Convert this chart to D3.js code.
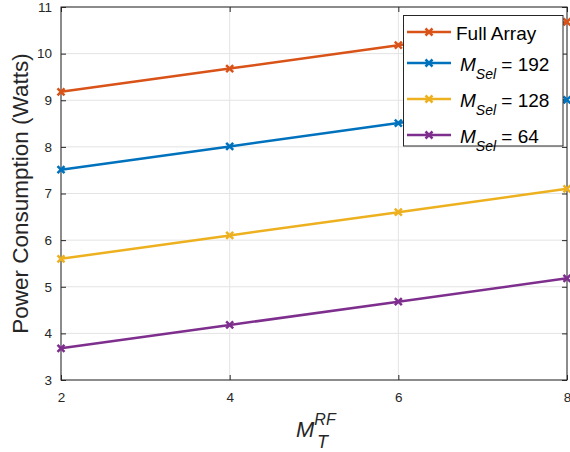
<!DOCTYPE html>
<html><head><meta charset="utf-8">
<script src="https://cdn.jsdelivr.net/npm/d3@7"></script>
<style>body{margin:0;background:#fff}svg{display:block;font-family:"Liberation Sans",Arial,sans-serif}</style>
</head><body>
<script>
const xValues = [2, 4, 6, 8];
const fullArray = [9.18, 9.68, 10.18, 10.68];
const mSel192 = [7.51, 8.01, 8.51, 9.01];
const mSel128 = [5.60, 6.10, 6.60, 7.10];
const mSel64 = [3.68, 4.18, 4.68, 5.18];
const xTicks = [2, 4, 6, 8];
const yTicks = [3, 4, 5, 6, 7, 8, 9, 10, 11];
const seriesNames = ["Full Array", "192", "128", "64"];
const seriesColors = ["#D95319", "#0072BD", "#EDB120", "#7E2F8E"];
const seriesData = [fullArray, mSel192, mSel128, mSel64];

const W = 570, H = 452;
const L = 61, R = 567, T = 7, B = 380;
const svg = d3.select("body").append("svg").attr("width", W).attr("height", H);
const x = d3.scaleLinear().domain([2, 8]).range([L, R]);
const y = d3.scaleLinear().domain([3, 11]).range([B, T]);

// grid
const g = svg.append("g");
g.selectAll(".gx").data(xTicks).join("line")
  .attr("x1", d => x(d)).attr("x2", d => x(d)).attr("y1", T).attr("y2", B)
  .attr("stroke", "#e3e3e3").attr("stroke-width", 1);
g.selectAll(".gy").data(yTicks).join("line")
  .attr("x1", L).attr("x2", R).attr("y1", d => y(d)).attr("y2", d => y(d))
  .attr("stroke", "#e3e3e3").attr("stroke-width", 1);

// axes
const axB = svg.append("g").attr("transform", `translate(0,${B})`)
  .call(d3.axisBottom(x).tickValues(xTicks).tickSize(-5).tickPadding(12).tickFormat(d3.format("d")));
const axL = svg.append("g").attr("transform", `translate(${L},0)`)
  .call(d3.axisLeft(y).tickValues(yTicks).tickSize(-5).tickPadding(9).tickFormat(d3.format("d")));
const axT = svg.append("g").attr("transform", `translate(0,${T})`)
  .call(d3.axisTop(x).tickValues(xTicks).tickSize(-5).tickFormat(""));
const axR = svg.append("g").attr("transform", `translate(${R},0)`)
  .call(d3.axisRight(y).tickValues(yTicks).tickSize(-5).tickFormat(""));
[axB, axL, axT, axR].forEach(a => {
  a.select(".domain").remove();
  a.selectAll(".tick line").attr("stroke", "#262626");
  a.selectAll("text").attr("fill", "#262626").style("font-size", "13.5px").style("font-family", "Liberation Sans, Arial, sans-serif");
});
svg.append("rect").attr("x", L).attr("y", T).attr("width", R - L).attr("height", B - T)
  .attr("fill", "none").attr("stroke", "#262626").attr("stroke-width", 1);

// lines
const line = d3.line().x((d, i) => x(xValues[i])).y(d => y(d));
function marker(sel, cx, cy, color) {
  const s = 3.5;
  sel.append("path").attr("d", `M${cx - s},${cy - s}L${cx + s},${cy + s}M${cx - s},${cy + s}L${cx + s},${cy - s}`)
    .attr("stroke", color).attr("stroke-width", 2.5).attr("fill", "none");
}
seriesData.forEach((data, k) => {
  const gg = svg.append("g");
  gg.append("path").datum(data).attr("d", line).attr("fill", "none")
    .attr("stroke", seriesColors[k]).attr("stroke-width", 2.5);
  data.forEach((v, i) => marker(gg, x(xValues[i]), y(v), seriesColors[k]));
});

// legend
const lg = svg.append("g");
lg.append("rect").attr("x", 403.5).attr("y", 15.5).attr("width", 159.5).attr("height", 130.5)
  .attr("fill", "#fff").attr("stroke", "#262626").attr("stroke-width", 1);
const rowsY = [32, 63, 99, 135];
seriesNames.forEach((n, k) => {
  const yy = rowsY[k];
  lg.append("line").attr("x1", 407).attr("x2", 451).attr("y1", yy).attr("y2", yy)
    .attr("stroke", seriesColors[k]).attr("stroke-width", 2.5);
  marker(lg, 429, yy, seriesColors[k]);
  const t = lg.append("text").attr("x", 456).attr("y", yy + 7.5).attr("fill", "#000")
    .style("font-size", "19px");
  if (k === 0) {
    t.text(n);
  } else {
    t.attr("x", 460);
    t.append("tspan").attr("font-style", "italic").text("M");
    t.append("tspan").attr("font-style", "italic").attr("font-size", "14px").attr("dy", 8).text("Sel");
    t.append("tspan").attr("dy", -8).text(" = " + n);
  }
});

// axis labels
svg.append("text").attr("transform", `translate(28,${(T + B) / 2}) rotate(-90)`)
  .attr("text-anchor", "middle").attr("fill", "#262626").style("font-size", "22.5px")
  .text("Power Consumption (Watts)");
const xl = svg.append("text").attr("x", 296).attr("y", 437).attr("fill", "#262626")
  .style("font-size", "22px").attr("font-style", "italic");
xl.append("tspan").text("M");
xl.append("tspan").attr("font-size", "16px").attr("dy", -12).text("RF");
xl.append("tspan").attr("font-size", "18px").attr("x", 317).attr("dy", 23).text("T");
</script>
</body></html>
